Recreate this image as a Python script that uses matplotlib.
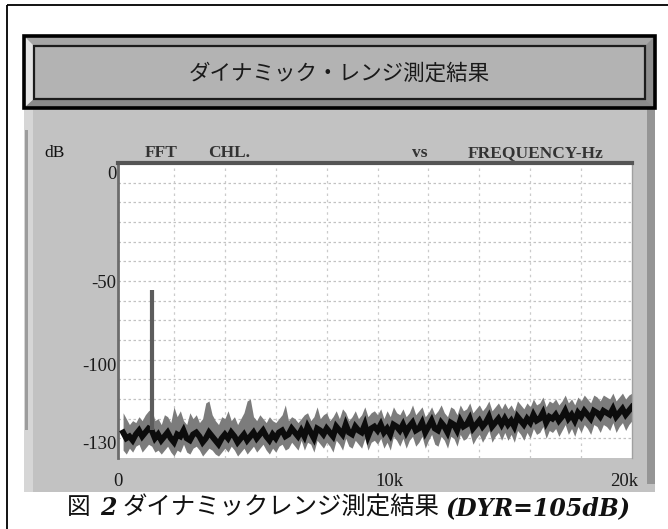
import numpy as np
import matplotlib
matplotlib.use('Agg')
import matplotlib.pyplot as plt
from matplotlib.patches import Rectangle, Polygon

# ---------------- data ----------------
title = "ダイナミック・レンジ測定結果"
header_labels = ["dB", "FFT", "CHL.", "vs", "FREQUENCY-Hz"]
caption_fig = "図"
caption_num = "2"
caption_jp = "ダイナミックレンジ測定結果"
caption_en = "(DYR=105dB)"

# y tick labels (as printed) and where they sit on the 0..-150 screen grid
ytick_labels = ["0", "-50", "-100", "-130"]
ytick_pos = [-5, -60.5, -102.5, -142]
xtick_labels = ["0", "10k", "20k"]
xtick_pos = [-200, 10450, 19700]

bin_hz = 125  # FFT bin spacing of the digitised trace
# dark centre line of the noise floor (dB on screen grid)
noise_center = [
    -137, -140, -139, -141, -138, -136, -139, -137,
    -135, -136, -140, -138, -141, -139, -137, -140,
    -142, -138, -139, -136, -140, -141, -138, -137,
    -139, -142, -140, -137, -139, -141, -143, -140,
    -138, -140, -137, -139, -142, -140, -138, -141,
    -139, -137, -140, -138, -136, -139, -141, -138,
    -140, -137, -136, -139, -138, -135, -137, -139,
    -136, -139, -134, -137, -140, -135, -136, -138,
    -135, -137, -139, -134, -136, -138, -133, -137,
    -138, -134, -136, -137, -133, -139, -135, -134,
    -136, -133, -137, -135, -138, -133, -134, -136,
    -133, -137, -134, -132, -136, -135, -132, -137,
    -134, -131, -135, -136, -132, -134, -137, -132,
    -133, -136, -131, -134, -133, -130, -135, -133,
    -131, -134, -132, -129, -134, -132, -130, -133,
    -130, -133, -131, -134, -129, -131, -133, -130,
    -132, -128, -131, -130, -127, -132, -129, -130,
    -128, -131, -129, -126, -130, -128, -131, -127,
    -129, -126, -128, -130, -126, -127, -129, -126,
    -127, -128, -125, -129, -127, -125, -128, -126,
    -124,
]
# grey spike tops
noise_upper = [
    -127, -130, -133, -131, -132, -129, -131, -128,
    -126, -125, -131, -130, -133, -128, -129, -132,
    -124, -129, -126, -131, -133, -127, -130, -128,
    -132, -130, -122, -121, -128, -131, -133, -129,
    -130, -126, -131, -129, -133, -130, -127, -121,
    -120, -129, -131, -128, -130, -132, -129, -131,
    -132, -130, -128, -123, -131, -129, -130, -132,
    -130, -128, -127, -131, -129, -124, -130, -128,
    -127, -131, -129, -126, -130, -125, -127, -131,
    -129, -126, -130, -128, -124, -129, -127, -126,
    -128, -125, -130, -126, -129, -124, -127, -128,
    -125, -129, -127, -123, -128, -126, -124, -129,
    -127, -124, -128, -126, -123, -127, -129, -124,
    -125, -128, -123, -126, -125, -122, -127, -125,
    -123, -126, -124, -121, -126, -124, -122, -125,
    -122, -125, -123, -126, -121, -123, -125, -122,
    -124, -120, -123, -122, -119, -124, -121, -122,
    -120, -123, -121, -118, -122, -120, -123, -119,
    -121, -118, -120, -122, -118, -119, -121, -118,
    -119, -120, -117, -121, -119, -117, -120, -118,
    -117,
]
# grey spike bottoms
noise_lower = [
    -146, -148, -145, -147, -144, -143, -147, -145,
    -143, -144, -147, -146, -148, -146, -144, -147,
    -149, -146, -147, -143, -147, -148, -145, -144,
    -146, -149, -147, -145, -146, -148, -149, -147,
    -145, -147, -144, -146, -149, -147, -145, -148,
    -146, -144, -147, -145, -143, -146, -148, -145,
    -147, -144, -143, -146, -145, -142, -144, -146,
    -141, -146, -142, -143, -147, -141, -143, -145,
    -142, -144, -147, -141, -143, -146, -140, -144,
    -145, -141, -143, -145, -140, -146, -142, -141,
    -143, -140, -145, -142, -146, -139, -141, -144,
    -140, -145, -141, -139, -144, -142, -139, -145,
    -141, -138, -143, -144, -139, -141, -145, -139,
    -140, -144, -138, -141, -140, -137, -143, -140,
    -138, -142, -139, -136, -142, -139, -137, -141,
    -137, -141, -138, -142, -136, -138, -141, -137,
    -140, -135, -138, -137, -134, -140, -136, -137,
    -135, -139, -136, -133, -138, -135, -139, -134,
    -137, -133, -135, -138, -133, -134, -137, -133,
    -134, -136, -132, -137, -134, -132, -136, -133,
    -131,
]
peak_freq = 1125
peak_db = -64.6

# ---------------- figure ----------------
W, H = 668, 529
fig = plt.figure(figsize=(W / 100, H / 100), dpi=100)
fig.patch.set_facecolor('white')

bg = fig.add_axes([0, 0, 1, 1])
bg.set_xlim(0, W)
bg.set_ylim(H, 0)
bg.axis('off')

# outer frame
bg.add_patch(Rectangle((7, 5), 680, 560, fill=False, ec='black', lw=1.3))

# grey panel
bg.add_patch(Rectangle((24, 108), 631, 384, fc='#c2c2c2', ec='none'))
bg.add_patch(Rectangle((24, 108), 9, 384, fc='#d6d6d6', ec='none'))
bg.add_patch(Rectangle((25, 130), 3, 300, fc='#9c9c9c', ec='none'))
bg.add_patch(Rectangle((647, 108), 8, 376, fc='#959595', ec='none'))

# title bar with bevel
x0, x1, y0, y1 = 24, 655, 36, 108
ix0, ix1, iy0, iy1 = 34, 645, 46, 99
bg.add_patch(Rectangle((x0, y0), x1 - x0, y1 - y0, fc='#a6a6a6', ec='none'))
bg.add_patch(Polygon([(x0, y0), (ix0, iy0), (ix0, iy1), (x0, y1)], closed=True,
                     fc='#e4e4e4', ec='none'))
bg.add_patch(Polygon([(x1, y0), (ix1, iy0), (ix1, iy1), (x1, y1)], closed=True,
                     fc='#8e8e8e', ec='none'))
bg.add_patch(Polygon([(x0, y1), (ix0, iy1), (ix1, iy1), (x1, y1)], closed=True,
                     fc='#8a8a8a', ec='none'))
bg.add_patch(Rectangle((ix0, iy0), ix1 - ix0, iy1 - iy0, fc='#b3b3b3',
                       ec='#1c1c1c', lw=1.6))
bg.add_patch(Rectangle((x0, y0), x1 - x0, y1 - y0, fill=False, ec='black', lw=2.6))
bg.text((x0 + x1) / 2, (iy0 + iy1) / 2 + 1, title, ha='center', va='center',
        fontsize=15.5, color='#1a1a1a', family=['Noto Sans CJK JP', 'DejaVu Sans'])

# header row
hdr_x = [55, 161, 229, 420, 536]
for lab, hx in zip(header_labels, hdr_x):
    bold = lab != "dB"
    bg.text(hx, 153, lab, ha='center', va='center', fontsize=12.5,
            fontweight='bold' if bold else 'normal',
            color='#333333' if bold else '#111111', family='Liberation Serif')

# caption
cap_y = 508
bg.text(67, cap_y, caption_fig, ha='left', va='center', fontsize=17,
        family=['Noto Sans CJK JP', 'DejaVu Sans'], color='#111')
bg.text(100, cap_y, caption_num, ha='left', va='center', fontsize=17,
        family='DejaVu Serif', fontweight='bold', style='italic', color='#111')
bg.text(123, cap_y, caption_jp, ha='left', va='center', fontsize=17.6,
        family=['Noto Sans CJK JP', 'DejaVu Sans'], color='#111')
bg.text(446, cap_y, caption_en, ha='left', va='center', fontsize=17,
        family='DejaVu Serif', fontweight='bold', style='italic', color='#111')

# ---------------- plot ----------------
ax = fig.add_axes([118 / W, (H - 458) / H, 514 / W, 295 / H])
ax.set_xlim(0, 20000)
ax.set_ylim(-150, 0)
ax.set_facecolor('white')

for yv in range(-140, 0, 10):
    ax.axhline(yv, color='#c2c2c2', lw=0.9, ls=(0, (2, 2)), zorder=1)
for xv in range(2000, 20000, 2000):
    ax.axvline(xv, color='#cbcbcb', lw=0.9, ls=(0, (2, 3)), zorder=1)

freqs = np.arange(len(noise_center)) * bin_hz
ax.fill_between(freqs, noise_lower, noise_upper, color='#7c7c7c', lw=0, zorder=2)
ax.plot(freqs, noise_center, color='#0c0c0c', lw=4.2, zorder=3,
        solid_joinstyle='miter')
base = noise_center[peak_freq // bin_hz]
ax.vlines(peak_freq, base, peak_db, color='#5c5c5c', lw=3, zorder=4)

ax.set_yticks(ytick_pos, ytick_labels)
ax.set_xticks(xtick_pos, xtick_labels)
ax.tick_params(length=0, labelsize=13.5, colors='#1a1a1a')
ax.tick_params(axis='y', pad=1)
ax.tick_params(axis='x', pad=11)
for lab in ax.get_xticklabels() + ax.get_yticklabels():
    lab.set_family('Liberation Serif')

ax.spines['top'].set_color('#555555')
ax.spines['top'].set_linewidth(3)
ax.spines['left'].set_color('#6c6c6c')
ax.spines['left'].set_linewidth(2.0)
ax.spines['right'].set_color('#a0a0a0')
ax.spines['right'].set_linewidth(1.0)
ax.spines['bottom'].set_visible(False)

fig.savefig('out.png', dpi=100, facecolor='white')
